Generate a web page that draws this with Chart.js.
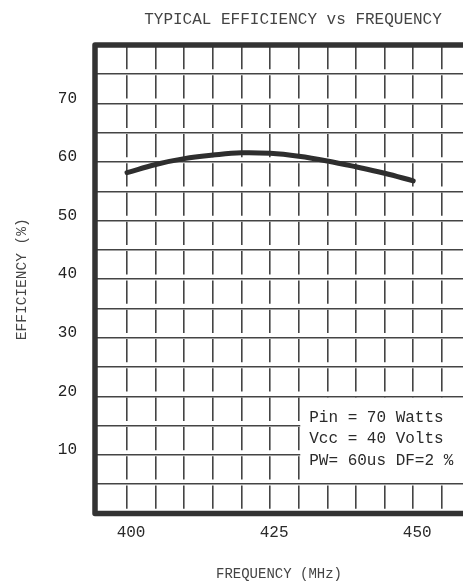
<!DOCTYPE html>
<html lang="en">
  <head>
    <meta charset="UTF-8">
    <meta name="viewport" content="width=device-width, initial-scale=1.0">
    <title>Typical Efficiency vs Frequency</title>
    <script src="https://cdn.jsdelivr.net/npm/chart.js"></script>
    <style>
      body { margin: 0; background: #fff; }
    </style>
  </head>
  <body>
    <canvas id="grafico" width="463" height="581"></canvas>

    <script>
      const ctx = document.getElementById('grafico');

      const frequencias = [400, 405, 410, 415, 420, 425, 430, 435, 440, 445, 450]
      const eficiencia = [58.2, 59.6, 60.6, 61.2, 61.6, 61.5, 61.0, 60.2, 59.2, 58.1, 56.8]
      const gradeX = [400, 405, 410, 415, 420, 425, 430, 435, 440, 445, 450, 455]
      const gradeY = [0, 5, 10, 15, 20, 25, 30, 35, 40, 45, 50, 55, 60, 65, 70, 75, 80]
      const rotulosX = [400, 425, 450]
      const rotulosY = [10, 20, 30, 40, 50, 60, 70]
      const notas = ['Pin = 70 Watts', 'Vcc = 40 Volts', 'PW= 60us DF=2 %']

      const fonte = '"Liberation Mono", "Courier New", monospace'

      // frame, condition box and title drawn straight on the canvas
      const moldura = {
        id: 'moldura',
        beforeDraw(chart) {
          const c = chart.ctx
          c.save()
          c.fillStyle = '#fff'
          c.fillRect(0, 0, chart.width, chart.height)
          c.restore()
        },
        beforeDatasetsDraw(chart) {
          const {ctx: c, chartArea: a, scales: {x, y}} = chart
          const x0 = x.getPixelForValue(430) + 1.5
          const y0 = y.getPixelForValue(20) + 1.5
          const y1 = y.getPixelForValue(5) - 1.5
          c.save()
          c.fillStyle = '#fff'
          c.fillRect(x0, y0, a.right - x0, y1 - y0)
          c.fillStyle = '#2a2a2a'
          c.font = '16px ' + fonte
          c.textBaseline = 'middle'
          notas.forEach((t, i) => c.fillText(t, x0 + 9, y0 + 19.5 + i * 21.5))
          c.restore()
        },
        afterDraw(chart) {
          const {ctx: c, chartArea: a} = chart
          c.save()
          c.strokeStyle = '#333'
          c.lineWidth = 5.5
          c.lineJoin = 'round'
          c.lineCap = 'round'
          c.beginPath()
          c.moveTo(chart.width + 10, a.top)
          c.lineTo(a.left, a.top)
          c.lineTo(a.left, a.bottom)
          c.lineTo(chart.width + 10, a.bottom)
          c.stroke()
          c.fillStyle = '#444'
          c.font = '16px ' + fonte
          c.textAlign = 'center'
          c.textBaseline = 'middle'
          c.fillText('TYPICAL EFFICIENCY vs FREQUENCY', a.left + 198, 20)
          c.restore()
        }
      }

      const grafico = new Chart(ctx, {
        type: 'line',
        data: {
          datasets: [{
            data: frequencias.map((f, i) => ({x: f, y: eficiencia[i]})),
            borderColor: '#2e2e2e',
            borderWidth: 5,
            borderCapStyle: 'round',
            pointRadius: 0,
            tension: 0.4,
            fill: false
          }]
        },
        options: {
          responsive: false,
          animation: false,
          layout: { padding: { top: 45, right: 0, bottom: 0, left: 0 } },
          plugins: {
            legend: { display: false },
            tooltip: { enabled: false }
          },
          scales: {
            x: {
              type: 'linear',
              min: 394.4,
              max: 458.7,
              afterBuildTicks: s => { s.ticks = gradeX.map(v => ({value: v})) },
              afterFit: s => { s.height = 67.5 },
              grid: { color: '#444', lineWidth: 1.6, drawTicks: false },
              border: { display: false, dash: [23.3, 6], dashOffset: 28.3 },
              ticks: {
                padding: 10,
                labelOffset: 4,
                maxRotation: 0,
                autoSkip: false,
                color: '#2a2a2a',
                font: { family: fonte, size: 16 },
                callback: v => rotulosX.includes(v) ? String(v) : ''
              },
              title: {
                display: true,
                text: 'FREQUENCY (MHz)',
                color: '#444',
                font: { family: fonte, size: 14, lineHeight: 1 },
                padding: { top: 0, bottom: 0 }
              }
            },
            y: {
              min: 0,
              max: 80,
              afterBuildTicks: s => { s.ticks = gradeY.map(v => ({value: v})) },
              afterFit: s => { s.width = 95 },
              grid: { color: '#444', lineWidth: 1.6, drawTicks: false },
              border: { display: false },
              ticks: {
                padding: 18,
                labelOffset: -5,
                autoSkip: false,
                color: '#222',
                font: { family: fonte, size: 16 },
                callback: v => rotulosY.includes(v) ? String(v) : ''
              },
              title: {
                display: true,
                text: 'EFFICIENCY (%)',
                color: '#444',
                font: { family: fonte, size: 14.5, lineHeight: 1 },
                padding: { top: 14.5, bottom: 0 }
              }
            }
          }
        },
        plugins: [moldura]
      });
    </script>
  </body>
</html>
